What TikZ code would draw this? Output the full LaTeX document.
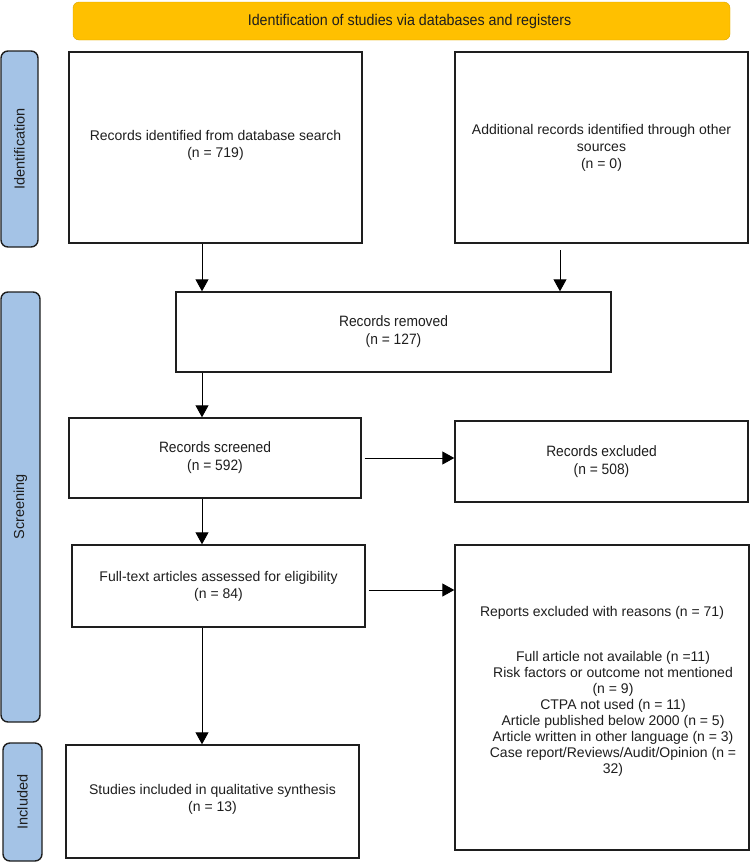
\documentclass[tikz,border=0pt]{standalone}
\usepackage{fontspec}
\setmainfont{Liberation Sans}
\newfontfamily\condfont[FakeStretch=0.92]{Liberation Sans}
\usetikzlibrary{arrows.meta}

\definecolor{bannerfill}{HTML}{FFC000}
\definecolor{bannerline}{HTML}{D9A400}
\definecolor{tabfill}{HTML}{A4C3E6}
\definecolor{inkgray}{HTML}{1E1E1E}

\tikzset{
  box/.style={draw=inkgray, line width=1.4pt, fill=white, align=center,
    text=inkgray, inner sep=4pt, font=\fontsize{14}{17}\selectfont},
  condbox/.style={box, font=\condfont\fontsize{15}{18}\selectfont},
  tab/.style={draw=inkgray, line width=1.4pt, fill=tabfill, rounded corners=7pt,
    rotate=90, text=inkgray, font=\fontsize{14.5}{17}\selectfont},
  arr/.style={-{Triangle[length=12pt,width=13pt]}, line width=1pt, draw=black},
}

\begin{document}
\begin{tikzpicture}[x=1pt,y=-1pt]
    \useasboundingbox (0,0) rectangle (750,863);

    % Banner
    \node[draw=bannerline, fill=bannerfill, rounded corners=6pt, minimum width=657pt,
      minimum height=38pt, text=inkgray, font=\condfont\fontsize{15.5}{18}\selectfont]
      (banner) at (401.5,21) {\hspace*{16pt}Identification of studies via databases and registers};

    % Side tabs
    \node[tab, minimum width=196pt, minimum height=37pt] (identtab) at (19.5,149) {Identification};
    \node[tab, minimum width=430pt, minimum height=39pt] (screentab) at (20.5,507) {Screening};
    \node[tab, minimum width=118pt, minimum height=39pt] (incltab) at (22.5,802) {Included};

    % Identification
    \node[box, minimum width=293pt, minimum height=191pt] (db) at (215.5,147.5)
      {Records identified from database search\\(n = 719)\\[-9pt]};
    \node[box, minimum width=293pt, minimum height=191pt] (other) at (601.5,147.5)
      {Additional records identified through other\\sources\\(n = 0)};

    % Screening
    \node[condbox, minimum width=435pt, minimum height=80pt] (removed) at (393.5,332)
      {Records removed\\(n = 127)};
    \node[condbox, minimum width=292pt, minimum height=80pt] (screened) at (215,458)
      {Records screened\\(n = 592)};
    \node[condbox, minimum width=293pt, minimum height=81pt] (excluded) at (601.5,461.5)
      {Records excluded\\(n = 508)};
    \node[box, minimum width=293pt, minimum height=82pt] (fulltext) at (218.5,586)
      {Full-text articles assessed for eligibility\\(n = 84)};
    \node[box, minimum width=294pt, minimum height=305pt] (reports) at (602,697.5) {};
    \node[text=inkgray, align=center, font=\fontsize{14}{16}\selectfont]
      (reasons) at ([yshift=5pt]reports.center)
      {Reports excluded with reasons (n = 71)\\[30pt]
       \hspace*{22pt}\begin{tabular}{@{}c@{}}
       Full article not available (n =11)\\
       Risk factors or outcome not mentioned\\
       (n = 9)\\
       CTPA not used (n = 11)\\
       Article published below 2000 (n = 5)\\
       Article written in other language (n = 3)\\
       Case report/Reviews/Audit/Opinion (n =\\
       32)
       \end{tabular}};

    % Included
    \node[box, minimum width=293pt, minimum height=113pt] (included) at (212.5,801.5)
      {Studies included in qualitative synthesis\\(n = 13)\\[-9pt]};

    % Arrows
    \coordinate (leftx) at (202,0);
    \coordinate (otherfoot) at (560,250);
    \coordinate (ftout) at ([shift={(3pt,-4pt)}]fulltext.east);
    \draw[arr] (db.south -| leftx) -- (removed.north -| leftx);
    \draw[arr] (otherfoot) -- (removed.north -| otherfoot);
    \draw[arr] (removed.south -| leftx) -- (screened.north -| leftx);
    \draw[arr] ([xshift=3pt]screened.east) -- (screened.east -| excluded.west);
    \draw[arr] (screened.south -| leftx) -- (fulltext.north -| leftx);
    \draw[arr] (ftout) -- (ftout -| reports.west);
    \draw[arr] (fulltext.south -| leftx) -- (included.north -| leftx);
\end{tikzpicture}
\end{document}
